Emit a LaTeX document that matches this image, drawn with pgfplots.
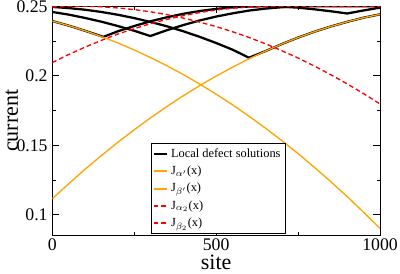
\documentclass[border=0pt]{standalone}
\usepackage{fontspec}
\setmainfont{Liberation Serif}
\usepackage{pgfplots}
\pgfplotsset{compat=1.18}
\definecolor{jorange}{RGB}{255,165,0}
\definecolor{jred}{RGB}{255,0,0}
\begin{document}
\begin{tikzpicture}
\begin{axis}[
 name=ax,
 scale only axis, width=245.8pt, height=171.75pt,
 xmin=0, xmax=1000, ymin=0.0854, ymax=0.25,
 xtick={0,500,1000}, xticklabels={0,500,1000}, minor xtick={250,750},
 ytick={0.1,0.15,0.2,0.25}, yticklabels={0.1,0.15,0.2,0.25}, minor ytick={0.125,0.175,0.225},
 tick align=inside, major tick length=5pt, minor tick length=2.6pt,
 every tick/.style={black, line width=0.75pt},
 axis line style={line width=0.75pt},
 tick label style={font=\fontsize{13.3}{15}\selectfont},
 xticklabel style={yshift=1pt},
 /pgf/number format/assume math mode=true,
 xlabel={site}, ylabel={current},
 label style={font=\fontsize{16.5}{19}\selectfont},
 xlabel style={yshift=3.3pt},
 ylabel style={yshift=-8pt},
 legend cell align=left,
 legend style={at={(0.3,0.007)}, anchor=south west, font=\fontsize{9.3}{10.5}\selectfont,
   row sep=1.1pt, inner sep=1.5pt},
 legend image code/.code={\draw[#1,line width=1.4pt] (0cm,0cm) -- (0.36cm,0cm);},
]
% local defect solutions
\addplot[black, line width=1.7pt] coordinates {(0,0.2495)(50,0.2487)(100,0.2475)(150,0.2459)(200,0.2439)(250,0.2415)(300,0.2387)(350,0.2356)(400,0.2320)(450,0.2280)(500,0.2236)(550,0.2188)(600,0.2130)(650,0.2177)(700,0.2228)(750,0.2275)(800,0.2317)(850,0.2355)(900,0.2388)(950,0.2418)(1000,0.2442)};
\addlegendentry{Local defect solutions}
\addplot[black, line width=1.7pt, forget plot] coordinates {(0,0.2394)(50,0.2361)(100,0.2324)(156,0.2280)(200,0.2320)(250,0.2358)(300,0.2392)(350,0.2421)(400,0.2446)(450,0.2466)(500,0.2481)(550,0.2492)(600,0.2498)(644,0.2500)(700,0.2497)(750,0.2490)(800,0.2478)(850,0.2464)(900,0.2448)(950,0.2470)(1000,0.2490)};
\addplot[black, line width=1.7pt, forget plot] coordinates {(0,0.2459)(50,0.2440)(100,0.2416)(150,0.2389)(200,0.2358)(250,0.2324)(299,0.2286)(350,0.2328)(400,0.2365)(450,0.2398)(500,0.2426)(550,0.2449)(600,0.2469)(650,0.2483)(700,0.2493)(750,0.2499)(787,0.2500)(1000,0.2500)};
% J alpha'
\addplot[color=jorange, line width=1pt] coordinates {(0,0.1116)(50,0.1224)(100,0.1328)(150,0.1427)(200,0.1522)(250,0.1612)(300,0.1698)(350,0.1780)(400,0.1857)(450,0.1930)(500,0.1998)(550,0.2062)(600,0.2122)(650,0.2177)(700,0.2228)(750,0.2275)(800,0.2317)(850,0.2355)(900,0.2388)(950,0.2418)(1000,0.2442)};
\addlegendentry{J$_{\alpha'}$(x)}
% J beta'
\addplot[color=jorange, line width=1pt] coordinates {(0,0.2394)(50,0.2361)(100,0.2324)(150,0.2282)(200,0.2237)(250,0.2186)(300,0.2131)(350,0.2072)(400,0.2009)(450,0.1941)(500,0.1868)(550,0.1792)(600,0.1710)(650,0.1625)(700,0.1535)(750,0.1441)(800,0.1342)(850,0.1239)(900,0.1132)(950,0.1019)(1000,0.0903)};
\addlegendentry{J$_{\beta'}$(x)}
% J alpha2
\addplot[color=jred, line width=1pt, dash pattern=on 3.5pt off 2.2pt] coordinates {(0,0.2095)(50,0.2153)(100,0.2206)(150,0.2255)(200,0.2300)(250,0.2339)(300,0.2375)(350,0.2406)(400,0.2433)(450,0.2455)(500,0.2473)(550,0.2486)(600,0.2495)(650,0.2499)(700,0.2500)(1000,0.2499)};
\addlegendentry{J$_{\alpha_2}$(x)}
% J beta2
\addplot[color=jred, line width=1pt, dash pattern=on 3.5pt off 2.2pt] coordinates {(0,0.2495)(50,0.2499)(80,0.2500)(100,0.2500)(150,0.2496)(200,0.2488)(250,0.2476)(300,0.2460)(350,0.2440)(400,0.2415)(450,0.2386)(500,0.2354)(550,0.2317)(600,0.2276)(650,0.2231)(700,0.2181)(750,0.2128)(800,0.2070)(850,0.2008)(900,0.1942)(950,0.1872)(1000,0.1798)};
\addlegendentry{J$_{\beta_2}$(x)}
\end{axis}
\pgfresetboundingbox
\path ([xshift=-39.2pt,yshift=-28.5pt]ax.south west) rectangle ([xshift=15pt,yshift=4.7pt]ax.north east);
\end{tikzpicture}
\end{document}
